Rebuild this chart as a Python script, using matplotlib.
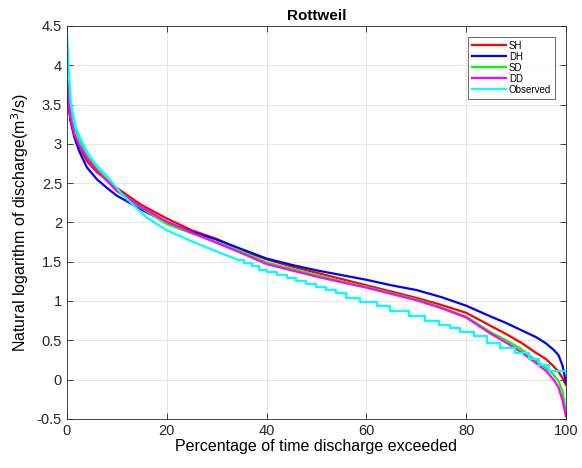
import numpy as np
import matplotlib
matplotlib.use("Agg")
import matplotlib.pyplot as plt

plt.rcParams['font.family'] = ['Liberation Sans', 'DejaVu Sans']

# flow duration curves, ln(Q) vs percent of time exceeded
pct = [0, 0.3, 0.7, 1.5, 2.5, 4, 6, 8, 10, 12, 15, 20, 25, 30, 35, 40, 45, 50,
       55, 60, 65, 70, 75, 80, 85, 88, 91, 94, 96, 97.5, 98.5, 99.3, 100]

sh = [3.72, 3.50, 3.31, 3.12, 2.96, 2.78, 2.64, 2.54, 2.44, 2.35, 2.22, 2.05,
      1.90, 1.79, 1.65, 1.53, 1.44, 1.36, 1.28, 1.20, 1.12, 1.04, 0.95, 0.85,
      0.68, 0.58, 0.47, 0.34, 0.26, 0.17, 0.10, 0.02, -0.07]
dh = [3.82, 3.55, 3.30, 3.08, 2.90, 2.70, 2.55, 2.44, 2.34, 2.27, 2.16, 2.00,
      1.88, 1.78, 1.66, 1.54, 1.46, 1.39, 1.33, 1.27, 1.20, 1.14, 1.05, 0.94,
      0.80, 0.72, 0.63, 0.54, 0.46, 0.38, 0.31, 0.18, -0.04]
sd = [3.80, 3.62, 3.50, 3.22, 3.05, 2.85, 2.68, 2.55, 2.40, 2.31, 2.18, 1.98,
      1.86, 1.75, 1.63, 1.49, 1.41, 1.33, 1.25, 1.18, 1.10, 1.02, 0.92, 0.80,
      0.60, 0.50, 0.39, 0.24, 0.15, 0.06, -0.02, -0.15, -0.42]
dd = [3.82, 3.55, 3.33, 3.12, 2.98, 2.82, 2.66, 2.53, 2.40, 2.32, 2.19, 2.01,
      1.87, 1.74, 1.61, 1.47, 1.39, 1.31, 1.24, 1.17, 1.09, 1.01, 0.91, 0.79,
      0.58, 0.47, 0.35, 0.21, 0.11, 0.00, -0.10, -0.26, -0.47]

# observed: smooth upper part, then stepped (quantised) part
obs_pct = [0, 0.3, 0.8, 1.7, 2.7, 4, 5.5, 8.7, 11, 13, 16, 20, 25, 30, 34]
obs_val = [4.43, 4.03, 3.52, 3.22, 3.07, 2.90, 2.76, 2.54, 2.36, 2.24, 2.06,
           1.90, 1.76, 1.63, 1.53]

obs_step_pct = [34, 35.5, 37, 38.5, 40, 42, 44, 46, 48, 50, 52, 54, 56, 58.8,
                62.1, 64.8, 68.5, 71.8, 74.5, 76.8, 78.8, 81.5, 84.2, 86.8,
                89.8, 92.5, 94.5, 96.5, 100]
obs_step_val = [1.52, 1.48, 1.44, 1.40, 1.37, 1.33, 1.29, 1.25, 1.21, 1.18,
                1.14, 1.10, 1.04, 0.99, 0.93, 0.87, 0.81, 0.75, 0.69, 0.65,
                0.61, 0.55, 0.47, 0.40, 0.34, 0.26, 0.19, 0.105, 0.105]

fig = plt.figure(figsize=(5.82, 4.68), dpi=100)
ax = fig.add_axes([0.115, 0.105, 0.8575, 0.8395])

lw = 1.6
ax.plot(pct, sh, color='#ff0000', lw=lw, label='SH')
ax.plot(pct, dh, color='#0000ff', lw=lw, label='DH')
ax.plot(pct, sd, color='#00ff00', lw=lw, label='SD')
ax.plot(pct, dd, color='#ff00ff', lw=lw, label='DD')
ax.plot(obs_pct, obs_val, color='#00ffff', lw=lw, label='Observed')
ax.plot(obs_step_pct, obs_step_val, color='#00ffff', lw=lw, drawstyle='steps-post')

ax.set_xlim(0, 100)
ax.set_ylim(-0.5, 4.5)
ax.set_xticks(np.arange(0, 101, 20))
ax.set_yticks(np.arange(-0.5, 4.51, 0.5))
ax.set_yticklabels(['%g' % v for v in np.arange(-0.5, 4.51, 0.5)])
ax.grid(True, color='#e6e6e6', linewidth=0.7)
ax.set_axisbelow(True)
ax.tick_params(direction='in', top=True, right=True, length=4, width=0.6,
               labelsize=10.5, colors='#262626')
for s in ax.spines.values():
    s.set_color('#262626')
    s.set_linewidth(0.6)

ax.set_title('Rottweil', fontsize=11, fontweight='bold', pad=4)
ax.set_xlabel('Percentage of time discharge exceeded', fontsize=11.5, labelpad=1)
ax.set_ylabel('Natural logarithm of discharge(m$^3$/s)', fontsize=11.5, labelpad=4)

leg = ax.legend(loc='upper right', fontsize=7, frameon=True, fancybox=False,
                handlelength=3.5, borderpad=0.4, labelspacing=0.1,
                handletextpad=0.3, borderaxespad=0,
                bbox_to_anchor=(0.978, 0.972))
leg.get_frame().set_edgecolor('#262626')
leg.get_frame().set_linewidth(0.6)

fig.savefig('out.png', dpi=100)
